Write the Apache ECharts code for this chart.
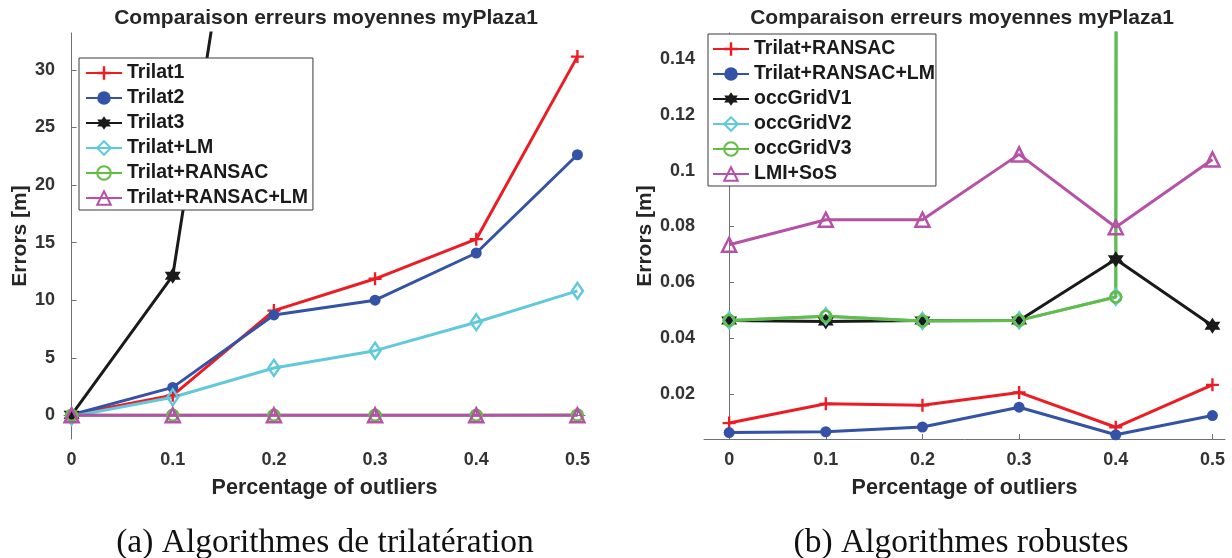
<!DOCTYPE html>
<html>
<head>
<meta charset="utf-8">
<script src="https://cdn.jsdelivr.net/npm/echarts@6/dist/echarts.min.js"></script>
<style>
html,body{margin:0;padding:0;background:#fff;}
#main{width:1232px;height:558px;}
</style>
</head>
<body>
<div id="main"></div>
<script>
// ---------- data ----------
const xValues = [0, 0.1, 0.2, 0.3, 0.4, 0.5];
const xTickLabels = ['0', '0.1', '0.2', '0.3', '0.4', '0.5'];

// Left chart (a)
const leftNames = ['Trilat1', 'Trilat2', 'Trilat3', 'Trilat+LM', 'Trilat+RANSAC', 'Trilat+RANSAC+LM'];
const trilat1 = [0.05, 1.74, 9.1, 11.86, 15.3, 31.15];
const trilat2 = [0.05, 2.43, 8.72, 10.0, 14.1, 22.63];
const trilat3 = [0.05, 12.13, 68, 150, 260, 400];
const trilatLM = [-0.1, 1.57, 4.12, 5.62, 8.09, 10.81];
const leftYTicks = [0, 5, 10, 15, 20, 25, 30];

// Right chart (b)
const rightNames = ['Trilat+RANSAC', 'Trilat+RANSAC+LM', 'occGridV1', 'occGridV2', 'occGridV3', 'LMI+SoS'];
const trilatRansac = [0.0095, 0.0164, 0.0159, 0.0205, 0.0080, 0.0232];
const trilatRansacLM = [0.0061, 0.0064, 0.0081, 0.0152, 0.0053, 0.0122];
const occGridV1 = [0.0463, 0.0459, 0.0463, 0.0463, 0.0682, 0.0444];
const occGridV2 = [0.0463, 0.0478, 0.0461, 0.0463, 0.0547, 30];
const occGridV3 = [0.0463, 0.0478, 0.0461, 0.0463, 0.0547, 30];
const lmiSos = [0.0734, 0.0824, 0.0824, 0.1058, 0.0797, 0.1040];
const rightYTicks = [0.02, 0.04, 0.06, 0.08, 0.1, 0.12, 0.14];
const rightYTickLabels = ['0.02', '0.04', '0.06', '0.08', '0.1', '0.12', '0.14'];

const titleText = 'Comparaison erreurs moyennes myPlaza1';
const xName = 'Percentage of outliers';
const yName = 'Errors [m]';
const captionA = '(a) Algorithmes de trilatération';
const captionB = '(b) Algorithmes robustes';

// ---------- styles ----------
const C = {
  red: '#ED1C24', blue: '#3452A6', black: '#1A1A1A', cyan: '#62C9DD',
  green: '#63BC43', magenta: '#B552A8'
};
const txt = '#262626';
const FONT = 'Liberation Sans, Arial, Helvetica, sans-serif';
// right chart series get a distinct internal key (zero-width suffix) so both legends map correctly
const R = n => n + '\u200B';

function hexagramPath() {
  const pts = [];
  for (let k = 0; k < 12; k++) {
    const a = -Math.PI / 2 + k * Math.PI / 6;
    const r = k % 2 === 0 ? 1 : 0.577;
    pts.push(((r * Math.cos(a)) * 10 + 10).toFixed(2) + ',' + ((r * Math.sin(a)) * 10 + 10).toFixed(2));
  }
  return 'path://M' + pts.join(' L') + ' Z';
}
const SYM = {
  plus: 'path://M4.1,0 H5.9 V4.1 H10 V5.9 H5.9 V10 H4.1 V5.9 H0 V4.1 H4.1 Z',
  circle: 'circle',
  hex: hexagramPath(),
  diamond: 'diamond',
  triangle: 'triangle'
};

function pairs(arr) { return arr.map((v, i) => [xValues[i], v]); }

function mkSeries(name, data, color, sym, size, filled, idx) {
  return {
    name: name, type: 'line', xAxisIndex: idx, yAxisIndex: idx,
    data: pairs(data),
    symbol: sym, symbolSize: size, showAllSymbol: true,
    lineStyle: { color: color, width: 3 },
    itemStyle: filled ? { color: color, borderColor: color, borderWidth: 0 }
                      : { color: 'rgba(255,255,255,0)', borderColor: color, borderWidth: 2.5 },
    emphasis: { disabled: true },
    animation: false,
    clip: true,
    z: 2
  };
}

function xAxisCfg(idx, min, max) {
  return {
    type: 'value', gridIndex: idx, min: min, max: max,
    name: xName, nameLocation: 'middle', nameGap: 38,
    nameTextStyle: { fontFamily: FONT, fontWeight: 'bold', fontSize: 21.5, color: txt },
    axisLine: { show: true, lineStyle: { color: '#707070', width: 1 } },
    axisTick: { show: true, inside: true, length: 5, lineStyle: { color: '#707070' }, customValues: xValues },
    axisLabel: {
      customValues: xValues, margin: 12,
      fontFamily: FONT, fontWeight: 'bold', fontSize: 18, color: '#333',
      formatter: v => { const i = xValues.findIndex(t => Math.abs(t - v) < 1e-9); return i >= 0 ? xTickLabels[i] : ''; }
    },
    splitLine: { show: false }
  };
}
function yAxisCfg(idx, min, max, ticks, labels, gap) {
  return {
    type: 'value', gridIndex: idx, min: min, max: max,
    name: yName, nameLocation: 'middle', nameGap: gap, nameRotate: 90,
    nameTextStyle: { fontFamily: FONT, fontWeight: 'bold', fontSize: 21, color: txt },
    axisLine: { show: true, lineStyle: { color: '#707070', width: 1 } },
    axisTick: { show: true, inside: true, length: 5, lineStyle: { color: '#707070' }, customValues: ticks },
    axisLabel: {
      customValues: ticks, margin: 9,
      fontFamily: FONT, fontWeight: 'bold', fontSize: 18, color: '#333',
      formatter: v => { const i = ticks.findIndex(t => Math.abs(t - v) < 1e-9); return i >= 0 ? labels[i] : ''; }
    },
    splitLine: { show: false }
  };
}

function legendCfg(names, left, top, pad) {
  return {
    orient: 'vertical', left: left, top: top, data: names,
    backgroundColor: '#fff', borderColor: '#3a3a3a', borderWidth: 1,
    padding: pad, itemGap: 5, itemWidth: 36, itemHeight: 17,
    textStyle: { fontFamily: FONT, fontWeight: 'bold', fontSize: 19.5, color: '#1a1a1a', lineHeight: 19 },
    selectedMode: false
  };
}

const chart = echarts.init(document.getElementById('main'), null, { renderer: 'canvas' });
chart.setOption({
  animation: false,
  backgroundColor: '#fff',
  grid: [
    { left: 64, right: 647, top: 33, bottom: 119, containLabel: false },
    { left: 704, right: 7, top: 33, bottom: 119, containLabel: false }
  ],
  xAxis: [xAxisCfg(0, -0.0075, 0.5075), xAxisCfg(1, -0.026, 0.513)],
  yAxis: [
    yAxisCfg(0, -2.05, 33.2, leftYTicks, leftYTicks.map(String), 32),
    yAxisCfg(1, 0.0038, 0.1493, rightYTicks, rightYTickLabels, 46)
  ],
  legend: [
    legendCfg(leftNames, 79, 58, [5, 5, 2, 6]),
    legendCfg(rightNames.map(R), 708, 34, [5, 1, 2, 4])
  ],
  series: [
    mkSeries('Trilat1', trilat1, C.red, SYM.plus, 13, true, 0),
    mkSeries('Trilat2', trilat2, C.blue, SYM.circle, 11, true, 0),
    mkSeries('Trilat3', trilat3, C.black, SYM.hex, 16, true, 0),
    mkSeries('Trilat+LM', trilatLM, C.cyan, SYM.diamond, [11, 16], false, 0),
    mkSeries('Trilat+RANSAC', trilatRansac, C.green, SYM.circle, 11, false, 0),
    mkSeries('Trilat+RANSAC+LM', trilatRansacLM, C.magenta, SYM.triangle, 14, false, 0),

    mkSeries(R('Trilat+RANSAC'), trilatRansac, C.red, SYM.plus, 13, true, 1),
    mkSeries(R('Trilat+RANSAC+LM'), trilatRansacLM, C.blue, SYM.circle, 11, true, 1),
    mkSeries(R('occGridV1'), occGridV1, C.black, SYM.hex, 16, true, 1),
    mkSeries(R('occGridV2'), occGridV2, C.cyan, SYM.diamond, [11, 16], false, 1),
    mkSeries(R('occGridV3'), occGridV3, C.green, SYM.circle, 11, false, 1),
    mkSeries(R('LMI+SoS'), lmiSos, C.magenta, SYM.triangle, 14, false, 1)
  ],
  graphic: [
    { type: 'text', x: 326, y: 18, style: { text: titleText, font: 'bold 21px ' + FONT, fill: txt, textAlign: 'center', textVerticalAlign: 'middle' } },
    { type: 'text', x: 962, y: 18, style: { text: titleText, font: 'bold 21px ' + FONT, fill: txt, textAlign: 'center', textVerticalAlign: 'middle' } },
    { type: 'text', x: 325, y: 543, style: { text: captionA, font: '33.5px "Liberation Serif", "DejaVu Serif", serif', fill: '#111', textAlign: 'center', textVerticalAlign: 'middle' } },
    { type: 'text', x: 961, y: 543, style: { text: captionB, font: '33.5px "Liberation Serif", "DejaVu Serif", serif', fill: '#111', textAlign: 'center', textVerticalAlign: 'middle' } }
  ]
});
</script>
</body>
</html>
